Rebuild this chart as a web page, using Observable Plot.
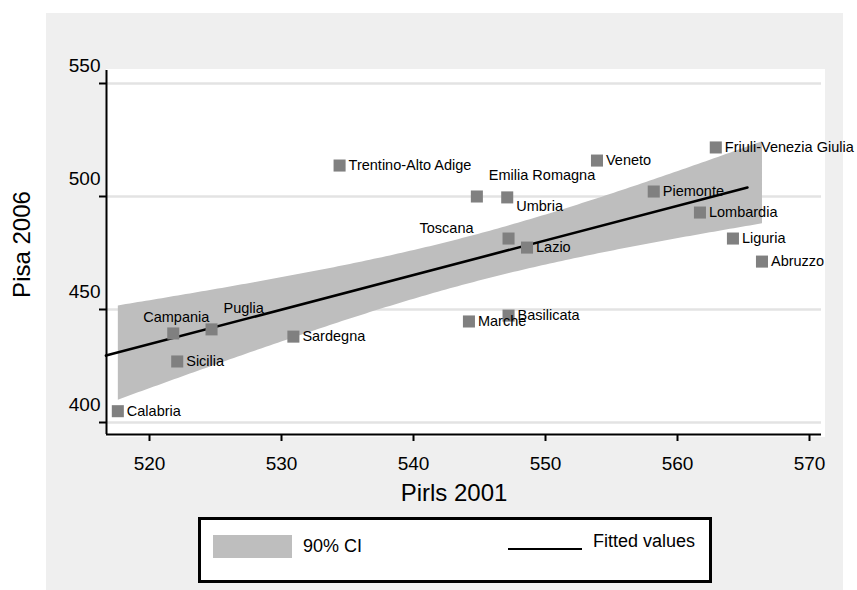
<!DOCTYPE html>
<html><head><meta charset="utf-8">
<script src="https://cdn.jsdelivr.net/npm/d3@7"></script>
<script src="https://cdn.jsdelivr.net/npm/@observablehq/plot@0.6"></script>
<style>
body{margin:0;background:#fff;font-family:"Liberation Sans",Arial,sans-serif;}
#wrap{position:relative;width:857px;height:590px;overflow:hidden;}
#bg{position:absolute;left:46px;top:13px;width:797px;height:577px;background:#efefef;}
#region{position:absolute;left:106px;top:69px;width:719px;height:368px;background:#fff;}
#chart{position:absolute;left:0;top:0;}
#legend{position:absolute;left:198px;top:517px;width:514px;height:66px;box-sizing:border-box;border:3px solid #000;background:#fff;}
#legend .sw{position:absolute;left:12px;top:15px;width:79px;height:23px;background:#bebebe;}
#legend .ln{position:absolute;left:307px;top:28px;width:74px;height:0;border-top:2.5px solid #000;}
#legend .t{position:absolute;font-size:18px;line-height:20px;color:#000;white-space:nowrap;}
</style></head>
<body>
<div id="wrap">
  <div id="bg"></div>
  <div id="region"></div>
  <div id="chart"></div>
  <div id="legend">
    <div class="sw"></div><div class="t" id="l1" style="left:102px;top:16px;"></div>
    <div class="ln"></div><div class="t" id="l2" style="left:392px;top:11px;"></div>
  </div>
</div>
<script>
// ---- data ----
const regions = ["Calabria","Campania","Puglia","Sicilia","Sardegna","Marche","Basilicata","Trentino-Alto Adige","Emilia Romagna","Umbria","Veneto","Friuli-Venezia Giulia","Piemonte","Lombardia","Liguria","Abruzzo","Toscana","Lazio"];
const pirls2001 = [517.6,521.8,524.7,522.1,530.9,544.2,547.2,534.4,544.8,547.1,553.9,562.9,558.2,561.7,564.2,566.4,547.2,548.6];
const pisa2006  = [405.0,439.4,441.2,427.0,438.0,444.7,447.3,513.7,500.0,499.6,515.9,521.7,502.2,492.9,481.4,471.2,481.4,477.4];
const labelClock = [3,12,1,3,3,3,3,3,1,4,3,3,3,3,3,3,11,3];
const fittedX = [516.7, 565.3];
const fittedY = [429.6, 504.0];
const xTicks = [520,530,540,550,560,570];
const yTicks = [400,450,500,550];
const legendLabels = ["90% CI","Fitted values"];
const xTitle = "Pirls 2001";
const yTitle = "Pisa 2006";

// ---- build ----
const data = regions.map((name,i)=>({name, x:pirls2001[i], y:pisa2006[i], clock:labelClock[i]}));
const fitted = fittedX.map((x,i)=>({x, y:fittedY[i]}));
const xDomain = [516.742, 570.909];
const yDomain = [394.69, 555.75];

// label placement by clock position (style)
const clockStyle = {
  3:  {dx: 9,  dy: 0,   textAnchor: "start"},
  12: {dx: 3,  dy: -16, textAnchor: "middle"},
  1:  {dx: 12, dy: -21, textAnchor: "start"},
  4:  {dx: 9,  dy: 9,   textAnchor: "start"},
  11: {dx: -35,dy: -10, textAnchor: "end"}
};
const labelMarks = Object.keys(clockStyle).map(c =>
  Plot.text(data.filter(d => d.clock === +c), {x:"x", y:"y", text:"name", fontSize:14.5, fill:"#000", ...clockStyle[c]})
);

const chart = Plot.plot({
  width: 857, height: 590,
  marginLeft: 106, marginRight: 36, marginTop: 70, marginBottom: 156,
  x: {domain: xDomain},
  y: {domain: yDomain},
  style: {background: "transparent", fontFamily: "'Liberation Sans', Arial, sans-serif", color: "#000", overflow: "visible"},
  marks: [
    Plot.gridY(yTicks, {stroke: "#e3e3e3", strokeOpacity: 1, strokeWidth: 2.5}),
    Plot.linearRegressionY(data, {x: "x", y: "y", ci: 0.9, fill: "#bebebe", fillOpacity: 1, stroke: "none"}),
    Plot.line(fitted, {x: "x", y: "y", stroke: "#000", strokeWidth: 2.6}),
    Plot.dot(data, {x: "x", y: "y", symbol: "square", r: 6.8, fill: "#808080", stroke: "none"}),
    ...labelMarks,
    Plot.ruleX([xDomain[0]], {stroke: "#000", strokeWidth: 2}),
    Plot.ruleY([yDomain[0]], {stroke: "#000", strokeWidth: 2}),
    Plot.axisX(xTicks, {tickSize: 7, strokeWidth: 2, stroke: "#000", fill: "none", label: null}),
    Plot.axisX(xTicks, {tickSize: 0, tickPadding: 22, fontSize: 19, fill: "#000", label: null}),
    Plot.axisY(yTicks, {tickSize: 7, strokeWidth: 2, stroke: "#000", fill: "none", label: null}),
    Plot.axisY(yTicks, {tickSize: 0, tickPadding: 6, dy: -18, fontSize: 19, fill: "#000", label: null}),
    Plot.text([xTitle], {frameAnchor: "bottom", lineAnchor: "middle", textAnchor: "middle", dx: -10, dy: 59, fontSize: 24, fill: "#000"}),
    Plot.text([yTitle], {frameAnchor: "left", lineAnchor: "middle", textAnchor: "middle", dx: -84, dy: -8, rotate: -90, fontSize: 24, fill: "#000"})
  ]
});
document.getElementById("chart").appendChild(chart);
document.getElementById("l1").textContent = legendLabels[0];
document.getElementById("l2").textContent = legendLabels[1];
</script>
</body></html>
